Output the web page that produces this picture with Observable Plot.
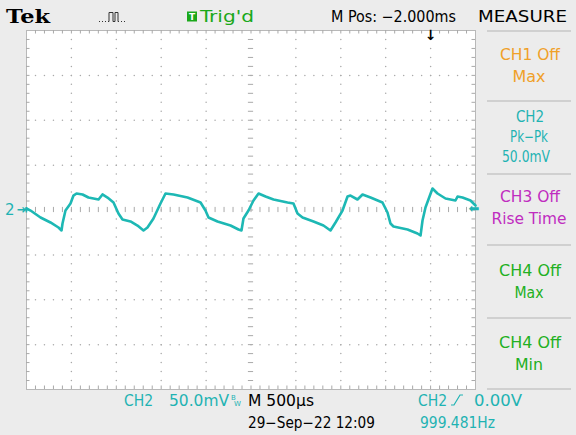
<!DOCTYPE html>
<html><head><meta charset="utf-8">
<script src="https://cdn.jsdelivr.net/npm/d3@7"></script>
<script src="https://cdn.jsdelivr.net/npm/@observablehq/plot@0.6"></script>
<style>
html,body{margin:0;padding:0;background:#ececec;}
#wrap{position:relative;width:576px;height:435px;overflow:hidden;background:#ececec;}
svg{display:block;}
</style>
</head><body><div id="wrap"></div>
<script>
// ---- data (time in ms across the 10-division screen, CH2 in mV) ----
const timeMs = [0,0.045,0.156,0.267,0.356,0.390,0.401,0.434,0.490,0.523,0.557,0.624,0.690,0.802,0.846,0.902,0.969,1.024,1.069,1.158,1.236,1.303,1.347,1.414,1.492,1.548,1.637,1.793,1.938,1.993,2.027,2.127,2.272,2.361,2.394,2.416,2.472,2.528,2.584,2.662,2.751,2.907,2.973,3.018,3.074,3.196,3.307,3.385,3.441,3.519,3.575,3.608,3.686,3.742,3.831,3.964,4.020,4.053,4.087,4.243,4.354,4.388,4.410,4.443,4.521,4.577,4.666,4.777,4.800,4.855,4.944,4.978,5.0];
const ch2mV = [1.7,-0.6,-8.4,-13.9,-19.5,-22.8,-15.0,-0.6,7.2,16.1,18.4,17.3,13.9,11.7,17.3,13.9,8.4,-3.9,-10.6,-12.8,-17.3,-22.8,-19.5,-9.5,7.2,18.4,17.3,13.9,8.4,-0.6,-8.4,-12.8,-17.3,-21.7,-22.8,-9.5,-0.6,10.6,18.4,15.0,11.7,8.4,7.2,-3.9,-8.4,-12.8,-17.3,-22.8,-13.9,-0.6,15.0,16.1,11.7,17.3,13.9,8.4,-2.8,-15.0,-18.4,-21.7,-26.2,-28.4,-11.7,2.8,23.9,18.4,12.8,10.6,15.0,13.9,10.6,7.2,5.0];

const menuLines1 = ["CH1 Off","CH2","CH3 Off","CH4 Off","CH4 Off"];
const menuLines2 = ["Max","Pk\u2212Pk","Rise Time","Max","Min"];
const menuLine3 = ["","50.0mV","","",""];
const menuColors = ["#f0a028","#1fb3b3","#c02cc0","#22b022","#22b022"];
const headerTexts = ["Tek","Trig'd","M Pos: \u22122.000ms","MEASURE"];
const footerTexts = ["CH2","50.0mV","M 500\u00b5s","CH2","0.00V","29\u2212Sep\u221222 12:09","999.481Hz"];

const trigPosMs = 4.5;   // M Pos -2.000ms relative to screen centre
const trigLevelmV = 0;   // 0.00V
const groundmV = 0;

// ---- graticule positions ----
const majorX = d3.range(1,10).map(i=>i*0.5).filter(d=>d!==2.5);
const majorY = [-150,-100,-50,50,100,150];
const minorX = d3.range(1,50).map(i=>i/10);
const minorY = d3.range(-19,20).map(i=>i*10);
const gridDots = [];
for (const t of majorX) for (const v of minorY) gridDots.push({t,v});
for (const v of majorY) for (const t of minorX) gridDots.push({t,v});

const data = timeMs.map((t,i)=>({t, v: ch2mV[i]}));

const teal = "#1fb3b3";
const W=576, H=435, mL=26, mR=101, mT=30, mB=46;
const msPerPx = 5/(W-mL-mR), mvPerPx = 400/(H-mT-mB);
const gcol = "#a9a9a9";

const chart = Plot.plot({
  width: W, height: H,
  marginLeft: mL, marginRight: mR, marginTop: mT, marginBottom: mB,
  x: {domain:[0,5], axis:null},
  y: {domain:[-200,200], axis:null},
  style: {background:"transparent", overflow:"visible"},
  marks: [
    Plot.frame({fill:"white", stroke:"#b8b8b8"}),
    Plot.dot(gridDots, {x:"t", y:"v", r:0.75, fill:gcol, stroke:null}),
    Plot.ruleX(minorX, {x:d=>d, y1:-2.6*mvPerPx, y2:2.6*mvPerPx, stroke:gcol}),
    Plot.ruleY(minorY, {y:d=>d, x1:2.5-2.6*msPerPx, x2:2.5+2.6*msPerPx, stroke:gcol}),
    Plot.ruleX(minorX, {x:d=>d, y1:200, y2:200-3.5*mvPerPx, stroke:gcol}),
    Plot.ruleX(minorX, {x:d=>d, y1:-200, y2:-200+3.5*mvPerPx, stroke:gcol}),
    Plot.ruleY(minorY, {y:d=>d, x1:0, x2:3.5*msPerPx, stroke:gcol}),
    Plot.ruleY(minorY, {y:d=>d, x1:5, x2:5-3.5*msPerPx, stroke:gcol}),
    Plot.line(data, {x:"t", y:"v", stroke:"#1db8b4", strokeWidth:2.6, strokeLinejoin:"round"}),
    Plot.text([groundmV], {x:0, y:d=>d, text:["2"], dx:-12, textAnchor:"end", fill:teal, fontSize:15, fontFamily:"DejaVu Sans"}),
    Plot.text([groundmV], {x:0, y:d=>d, text:["\u21e5"], dx:1, textAnchor:"end", fill:teal, fontSize:13, fontWeight:"bold", fontFamily:"DejaVu Sans"}),
    Plot.text([trigLevelmV], {x:5, y:d=>d, text:["\u2b05"], dx:4, dy:-1, textAnchor:"end", fill:teal, fontSize:13, fontFamily:"DejaVu Sans"}),
    Plot.text([trigPosMs], {x:d=>d, y:200, text:["\u2193"], lineAnchor:"top", dy:0, fill:"black", fontWeight:"bold", fontSize:14, fontFamily:"DejaVu Sans"})
  ]
});
document.getElementById("wrap").appendChild(chart);

// ---- scope chrome: header, measure menu, footer ----
const svg = d3.select(chart);
const g = svg.append("g").attr("font-family","DejaVu Sans");
function txt(s, x, y, opt={}) {
  const e = g.append("text").attr("x",x).attr("y",y).text(s)
    .attr("font-size", opt.size||14).attr("fill", opt.fill||"black")
    .attr("text-anchor", opt.anchor||"start");
  if (opt.len) e.attr("textLength", opt.len).attr("lengthAdjust","spacingAndGlyphs");
  if (opt.family) e.attr("font-family", opt.family);
  if (opt.weight) e.attr("font-weight", opt.weight);
  return e;
}
// header
txt(headerTexts[0], 6, 22.5, {family:"DejaVu Serif", weight:"bold", size:19, len:44});
g.append("path").attr("d","M99,21.5h1m2,0h1m2,0h1m2,0h1v-9h4v9h2v-9h3v9h1m2,0h1m2,0h1")
  .attr("fill","none").attr("stroke","#333").attr("stroke-width",1);
g.append("rect").attr("x",187).attr("y",11.5).attr("width",10).attr("height",10).attr("fill","#1aa81a");
txt("T", 192, 20, {fill:"white", size:9, weight:"bold", anchor:"middle"});
txt(headerTexts[1], 200, 22, {fill:"#1aa81a", size:15, len:54, family:"DejaVu Sans Condensed"});
txt(headerTexts[2], 331, 22, {size:15, len:125, family:"DejaVu Sans Condensed"});
txt(headerTexts[3], 478, 22, {size:15, len:89, family:"DejaVu Sans Condensed"});
// menu separators
[31,101,174,245,318,389].forEach(y=>{
  g.append("line").attr("x1",487).attr("x2",571).attr("y1",y).attr("y2",y).attr("stroke","#b4b4b4");
});
const menuBase = [[60,82],[122,142,162],[202,224],[276,298],[348,370]];
const len1 = [60,null,60,62,62], len2=[33,38,75,29,28];
menuLines1.forEach((s,i)=>{
  const b = menuBase[i];
  txt(s, 530, b[0], {fill:menuColors[i], anchor:"middle", size:15, len:len1[i], family:"DejaVu Sans Condensed"});
  txt(menuLines2[i], 529, b[1], {fill:menuColors[i], anchor:"middle", size:15, len:len2[i], family:"DejaVu Sans Condensed"});
  if (menuLine3[i]) txt(menuLine3[i], 526, b[2], {fill:menuColors[i], anchor:"middle", size:15, len:48, family:"DejaVu Sans Condensed"});
});
// footer
const ff = "DejaVu Sans Condensed";
txt(footerTexts[0], 124, 405.5, {fill:teal, size:15.5, family:ff});
txt(footerTexts[1], 169, 405.5, {fill:teal, size:15.5, len:60, family:ff});
txt("B", 231, 400, {fill:teal, size:7});
txt("W", 234, 406, {fill:teal, size:7});
txt(footerTexts[2], 248, 405.5, {size:15.5, len:66, family:ff});
txt(footerTexts[3], 418, 405.5, {fill:teal, size:15.5, family:ff});
g.append("path").attr("d","M451,405h3l6,-10h3").attr("fill","none").attr("stroke",teal).attr("stroke-width",1.2);
txt(footerTexts[4], 474, 405.5, {fill:teal, size:15.5, len:48, family:ff});
txt(footerTexts[5], 248, 427.5, {size:15.5, len:127, family:ff});
txt(footerTexts[6], 420, 427.5, {fill:teal, size:15.5, len:75, family:ff});
</script>
</body></html>
